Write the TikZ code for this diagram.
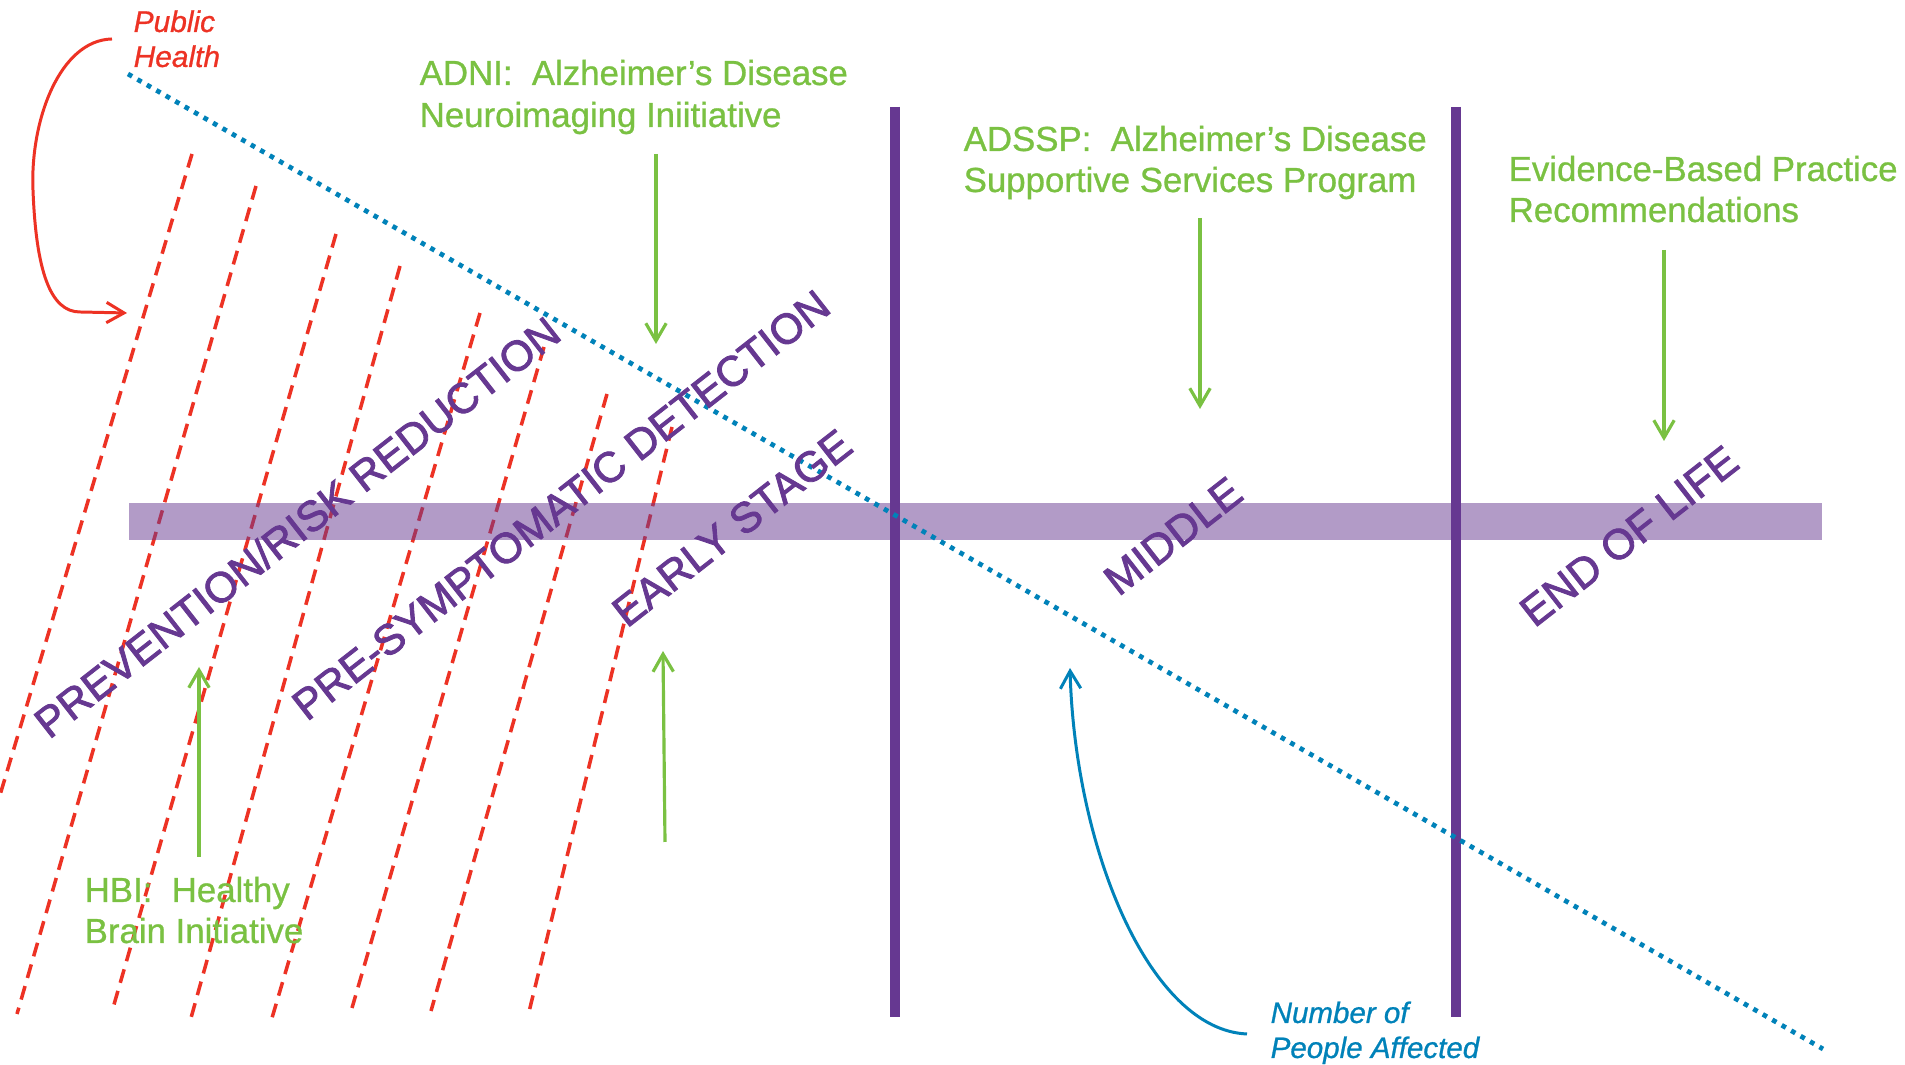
\documentclass[tikz,border=0pt]{standalone}
\usepackage{fontspec}
\setmainfont{Liberation Sans}
\newfontfamily\stagefont[FakeBold=2]{Liberation Sans}
\newfontfamily\labelfont[FakeBold=0.8]{Liberation Sans}
\usetikzlibrary{arrows.meta}
\definecolor{grn}{RGB}{122,193,66}
\definecolor{prp}{RGB}{102,56,145}
\definecolor{rd}{RGB}{237,50,36}
\definecolor{blu}{RGB}{0,130,185}
\begin{document}
\begin{tikzpicture}[x=0.01cm,y=-0.01cm,
  greentxt/.style={text=grn,font=\labelfont\fontsize{9.9}{12}\selectfont,inner sep=0pt,anchor=base west},
  redtxt/.style={text=rd,font=\labelfont\fontsize{8.5}{10}\selectfont\itshape,inner sep=0pt,anchor=base west},
  bluetxt/.style={text=blu,font=\labelfont\fontsize{8.4}{10}\selectfont\itshape,inner sep=0pt,anchor=base west},
  stagetxt/.style={text=prp,font=\stagefont\fontsize{12.1}{14}\selectfont,inner sep=0pt,rotate=38,anchor=center},
  garrow/.style={draw=grn,line width=0.9pt,-{Straight Barb[length=5pt,width=5.8pt,line width=0.9pt]}},
  rarrow/.style={draw=rd,line width=0.85pt,-{Straight Barb[length=5pt,width=5.8pt,line width=0.85pt]}},
  barrow/.style={draw=blu,line width=0.85pt,-{Straight Barb[length=5pt,width=5.8pt,line width=0.85pt]}},
  reddash/.style={draw=rd,line width=1pt,dash pattern=on 4pt off 2.4pt},
  bluedot/.style={draw=blu,line width=1.35pt,dash pattern=on 1.35pt off 1.75pt},
  vline/.style={draw=prp,line width=2.6pt},
  bandfill/.style={fill=prp,fill opacity=0.5}]
\fill[white] (0,0) rectangle (1905,1065);
\path[use as bounding box] (0,0) rectangle (1905,1065);

% red dashed lines
\foreach \xa/\ya/\xb/\yb in {192/154/0/795, 256/186/17/1014, 336/234/113/1008, 400/266/191/1018,
  480/313/272/1018, 544/347/352/1008, 607/394/431/1011, 672/427/528/1016}
  \draw[reddash] (\xa,\ya) -- (\xb,\yb);

% horizontal band
\path[bandfill] (129,503) rectangle (1822,540);

% vertical lines
\coordinate (v1t) at (895,107); \coordinate (v1b) at (895,1017);
\coordinate (v2t) at (1456,107); \coordinate (v2b) at (1456,1017);
\draw[vline] (v1t) -- (v1b);
\draw[vline] (v2t) -- (v2b);

% blue dotted line
\coordinate (ds) at (128,74); \coordinate (de) at (1823,1049);
\draw[bluedot] (ds) -- (de);

% stage labels
\node[stagetxt] (prev) at (297,527) {PREVENTION/RISK REDUCTION};
\node[stagetxt] (presym) at (561,505) {PRE-SYMPTOMATIC DETECTION};
\node[stagetxt] (early) at (732,528) {EARLY STAGE};
\node[stagetxt] (middle) at (1173,536) {MIDDLE};
\node[stagetxt] (eol) at (1629,536) {END OF LIFE};

% public health
\node[redtxt] (ph1) at (133,32) {Public};
\node[redtxt] (ph2) at (133,67) {Health};
\coordinate (phs) at (112,39); \coordinate (pht) at (127,313);
\draw[rarrow] (phs) .. controls (60,40) and (30,120) .. (33,190) .. controls (36,270) and (50,312) .. (80,312) -- (pht);

% number of people affected
\node[bluetxt] (np1) at (1270,1023) {Number of};
\node[bluetxt] (np2) at (1270,1058) {People Affected};
\coordinate (nps) at (1247,1034); \coordinate (npt) at (1070,668);
\draw[barrow] (nps) .. controls (1150,1030) and (1075,850) .. (npt);

% ADNI
\node[greentxt] (adni1) at (419,85) {ADNI:~ Alzheimer’s Disease};
\node[greentxt] (adni2) at (419,127) {Neuroimaging Iniitiative};
\coordinate (adnis) at (656,154); \coordinate (adnit) at (656,344);
\draw[garrow] (adnis) -- (adnit);

% ADSSP
\node[greentxt] (adssp1) at (963,151) {ADSSP:~ Alzheimer’s Disease};
\node[greentxt] (adssp2) at (963,192) {Supportive Services Program};
\coordinate (adssps) at (1200,218); \coordinate (adsspt) at (1200,409);
\draw[garrow] (adssps) -- (adsspt);

% Evidence
\node[greentxt] (ebp1) at (1508,181) {Evidence-Based Practice};
\node[greentxt] (ebp2) at (1508,222) {Recommendations};
\coordinate (ebps) at (1664,250); \coordinate (ebpt) at (1664,441);
\draw[garrow] (ebps) -- (ebpt);

% HBI
\node[greentxt] (hbi1) at (84,902) {HBI:~ Healthy};
\node[greentxt] (hbi2) at (84,943) {Brain Initiative};
\coordinate (hbis) at (199,857); \coordinate (hbit) at (199,667);
\draw[garrow] (hbis) -- (hbit);

% early stage arrow
\coordinate (eas) at (665,842); \coordinate (eat) at (663,651);
\draw[garrow] (eas) -- (eat);
\end{tikzpicture}
\end{document}
